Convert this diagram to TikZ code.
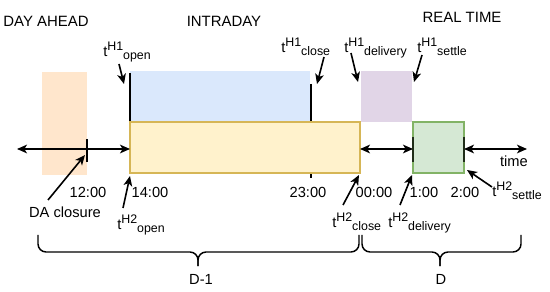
\documentclass[tikz,border=0pt]{standalone}
\usepackage{fontspec}
\setmainfont{Liberation Sans}
\usetikzlibrary{arrows.meta, positioning, calc}
\definecolor{cda}{HTML}{FFE6CC}
\definecolor{cid}{HTML}{DAE8FC}
\definecolor{cyl}{HTML}{FFF2CC}
\definecolor{cyld}{HTML}{D6B656}
\definecolor{cdl}{HTML}{E1D5E7}
\definecolor{cgr}{HTML}{D5E8D4}
\definecolor{cgrd}{HTML}{82B366}
\tikzset{
  hd/.style = {inner sep=0pt, font=\fontsize{11.2}{13}\selectfont},
  lbl/.style = {inner sep=0pt, font=\fontsize{11}{13}\selectfont},
  arr/.style = {-{Stealth[length=7.5pt, width=6.5pt, inset=2pt]}, line width=1.2pt},
  span/.style = {{Stealth[length=7.5pt, width=6.5pt, inset=2pt]}-{Stealth[length=7.5pt, width=6.5pt, inset=2pt]},
    line width=1.2pt},
  tick/.style = {line width=1.1pt},
  edge/.style = {line width=1.6pt, draw=black!75!cgrd},
  brc/.style = {line width=1.1pt, rounded corners=6pt}
}
\newcommand{\tv}[2]{t\raisebox{4.6pt}{\fontsize{9.3}{10}\selectfont #1}\raisebox{-2.2pt}{\fontsize{9.3}{10}\selectfont #2}}

\begin{document}
\begin{tikzpicture}[x=0.75pt, y=-0.75pt]
  \useasboundingbox (0,0) rectangle (550,292);
  % markets
  \node [hd, anchor=base] (da) at (46,27) {DAY AHEAD};
  \node [hd, anchor=base] (id) at (224,27) {INTRADAY};
  \node [hd, anchor=base] (rt) at (462,23) {REAL TIME};

  % blocks
  \fill [cda] (42,72) rectangle (87,175);
  \fill [cid] (130,71) rectangle (310,122);
  \fill [cdl] (361,71) rectangle (412,122);
  \draw [tick] (130,73) -- (130,122);
  \draw [tick] (311,84) -- (311,178);
  \draw [draw=cyld, fill=cyl, line width=0.8pt] (130,122) rectangle (360,173);
  \draw [draw=cgrd, fill=cgr, line width=0.8pt] (413,122) rectangle (464,173);

  % time axis
  \foreach \x [count=\i] in {17,130,360,413,464,527}
    \coordinate (a\i) at (\x,149);
  \draw [span] (a1) -- (a2);
  \draw [span] (a3) -- (a4);
  \draw [span] (a5) -- (a6);
  \draw [tick] (87,139) -- (87,162);
  \draw [edge] (413,137) -- (413,162);
  \draw [edge] (464,137) -- (464,162);
  \node [lbl, anchor=base] (tm) at (514,167) {time};
  \foreach \t/\x [count=\i] in {12:00/88, 14:00/150, 23:00/308, 00:00/374, 1:00/424, 2:00/465}
    \node [lbl, anchor=base] (h\i) at (\x,198) {\t};

  % H1 instants
  \foreach \s/\x/\y/\ax/\ay/\bx/\by [count=\i] in {open/103/57/119/64/124/84,
      close/281/53/324/57/317/84, delivery/344/53/351/53/358/82, settle/417/53/422/55/414/82} {
    \node [lbl, anchor=base west] (u\i) at (\x,\y) {\tv{H1}{\s}};
    \coordinate (us\i) at (\ax,\ay);
    \coordinate (ut\i) at (\bx,\by);
    \draw [arr] (us\i) -- (ut\i);
  }

  % H2 instants
  \foreach \s/\x/\y/\ax/\ay/\bx/\by [count=\i] in {open/117/230/123/208/130/176,
      close/332/228/343/205/359/175, delivery/388/228/400/205/412/175, settle/492/197/492/187/467/170} {
    \node [lbl, anchor=base west] (v\i) at (\x,\y) {\tv{H2}{\s}};
    \coordinate (vs\i) at (\ax,\ay);
    \coordinate (vt\i) at (\bx,\by);
    \draw [arr] (vs\i) -- (vt\i);
  }

  % DA closure
  \node [lbl, anchor=base] (dac) at (65,218) {DA closure};
  \coordinate (ds) at (48,200);
  \coordinate (dt) at (85,155);
  \draw [arr] (ds) -- (dt);

  % days
  \draw [brc] (38,235) |- (198,252) -- (198,266);
  \draw [brc] (359,235) |- (198,252) -- (198,266);
  \draw [brc] (362,235) |- (440,252) -- (440,266);
  \draw [brc] (521,235) |- (440,252) -- (440,266);
  \node [lbl, anchor=base] (d1) at (201,284) {D-1};
  \node [lbl, anchor=base] (d0) at (441,284) {D};
\end{tikzpicture}
\end{document}
